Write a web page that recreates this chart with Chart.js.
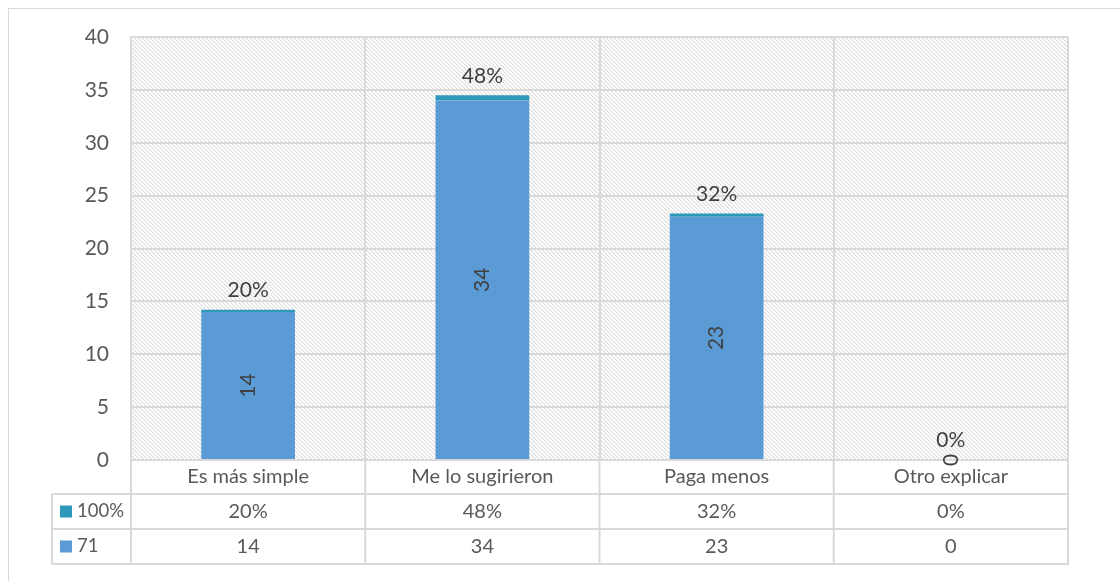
<!DOCTYPE html>
<html>
<head>
<meta charset="utf-8">
<script src="https://cdn.jsdelivr.net/npm/chart.js@4.4.1/dist/chart.umd.min.js"></script>
<style>
    html, body { margin: 0; padding: 0; background: #ffffff; overflow: hidden; }
    #chart { display: block; }
</style>
</head>
<body>
<canvas id="chart" width="1120" height="581"></canvas>
<script>
const categories = ["Es más simple", "Me lo sugirieron", "Paga menos", "Otro explicar"];
const counts = [14, 34, 23, 0];
const shares = [0.2, 0.48, 0.32, 0];
const countLabel = "71";
const shareLabel = "100%";

const textColor = "#595959";
const labelColor = "#404040";
const lineColor = "#d9d9d9";
const fontFamily = "Lato, 'Open Sans', sans-serif";

const pct = (v) => `${Math.round(v * 100)}%`;

// gray downward-diagonal fill for the plot area
const makeHatch = (ctx) => {
    const tile = document.createElement("canvas");
    tile.width = 8;
    tile.height = 8;
    const t = tile.getContext("2d");
    t.fillStyle = "#ffffff";
    t.fillRect(0, 0, 8, 8);
    for (let y = 0; y < 8; y++) {
        for (let x = 0; x < 8; x++) {
            const m = (((x - y) % 4) + 4) % 4;
            if (m == 0) {
                t.fillStyle = "#dcdcdc";
                t.fillRect(x, y, 1, 1);
            } else if (m == 1) {
                t.fillStyle = "#eeeeee";
                t.fillRect(x, y, 1, 1);
            }
        }
    }
    return ctx.createPattern(tile, "repeat");
};

const backgroundPlugin = {
    id: "background",
    beforeDraw(chart) {
        const { ctx, chartArea } = chart;
        ctx.save();
        ctx.strokeStyle = lineColor;
        ctx.lineWidth = 1;
        ctx.strokeRect(8.5, 8.5, 1300, 800);
        ctx.fillStyle = makeHatch(ctx);
        ctx.fillRect(chartArea.left, chartArea.top, chartArea.right - chartArea.left, chartArea.bottom - chartArea.top);
        ctx.restore();
    },
};

const labelPlugin = {
    id: "valueLabels",
    afterDatasetsDraw(chart) {
        const { ctx } = chart;
        ctx.save();
        ctx.fillStyle = labelColor;
        ctx.font = `21px ${fontFamily}`;
        ctx.textAlign = "center";

        chart.getDatasetMeta(0).data.forEach((bar, i) => {
            const cy = (bar.y + bar.base) / 2;
            ctx.save();
            ctx.translate(bar.x, cy);
            ctx.rotate(-Math.PI / 2);
            ctx.textBaseline = "middle";
            ctx.fillText(String(counts[i]), 0, 0);
            ctx.restore();
        });

        chart.getDatasetMeta(1).data.forEach((bar, i) => {
            ctx.textBaseline = "bottom";
            ctx.fillText(pct(shares[i]), bar.x, bar.y - 9);
        });
        ctx.restore();
    },
};

// data table under the x axis
const tablePlugin = {
    id: "dataTable",
    afterDraw(chart) {
        const { ctx, chartArea, scales } = chart;
        const x = scales.x;
        const headTop = chartArea.bottom;
        const rowH = 35;
        const r1 = headTop + 34;
        const r2 = r1 + rowH;
        const r3 = r2 + rowH;
        const tableLeft = 52;

        ctx.save();
        ctx.strokeStyle = lineColor;
        ctx.lineWidth = 2;
        ctx.beginPath();
        [r1, r2, r3].forEach((y) => {
            ctx.moveTo(tableLeft, y);
            ctx.lineTo(chartArea.right + 1, y);
        });
        ctx.moveTo(tableLeft, r1);
        ctx.lineTo(tableLeft, r3);
        for (let i = 0; i <= categories.length; i++) {
            const bx = i == 0 ? chartArea.left : i == categories.length ? chartArea.right : (x.getPixelForValue(i - 1) + x.getPixelForValue(i)) / 2;
            ctx.moveTo(bx, headTop);
            ctx.lineTo(bx, r3);
        }
        ctx.stroke();

        ctx.font = `20px ${fontFamily}`;
        ctx.fillStyle = textColor;
        ctx.textAlign = "center";
        ctx.textBaseline = "middle";
        categories.forEach((c, i) => {
            const cx = x.getPixelForValue(i);
            ctx.fillText(pct(shares[i]), cx, (r1 + r2) / 2);
            ctx.fillText(String(counts[i]), cx, (r2 + r3) / 2);
        });

        const rows = [
            { label: shareLabel, color: chart.data.datasets[1].backgroundColor, y: (r1 + r2) / 2 },
            { label: countLabel, color: chart.data.datasets[0].backgroundColor, y: (r2 + r3) / 2 },
        ];
        ctx.font = `18.5px ${fontFamily}`;
        rows.forEach((r) => {
            ctx.fillStyle = r.color;
            ctx.fillRect(60, r.y - 6, 12, 12);
            ctx.fillStyle = textColor;
            ctx.textAlign = "left";
            ctx.fillText(r.label, 77, r.y);
        });
        ctx.restore();
    },
};

const chart_ctx = document.getElementById("chart").getContext("2d");
const chart = new Chart(chart_ctx, {
    type: "bar",
    data: {
        labels: categories,
        datasets: [
            {
                label: countLabel,
                data: counts,
                backgroundColor: "#5b9bd5",
                barPercentage: 0.4,
                categoryPercentage: 1,
            },
            {
                label: shareLabel,
                data: shares,
                backgroundColor: "#2e98ba",
                barPercentage: 0.4,
                categoryPercentage: 1,
            },
        ],
    },
    options: {
        responsive: false,
        animation: false,
        layout: {
            padding: { left: 0, right: 52, top: 37, bottom: 87 },
        },
        plugins: {
            legend: { display: false },
            tooltip: { enabled: false },
        },
        scales: {
            x: {
                stacked: true,
                grid: { color: lineColor, lineWidth: 2, offset: true, drawTicks: false },
                border: { color: lineColor, width: 2 },
                ticks: {
                    color: textColor,
                    font: { family: fontFamily, size: 20 },
                    padding: 5,
                    maxRotation: 0,
                },
                afterFit: (s) => {
                    s.height = 34;
                },
            },
            y: {
                stacked: true,
                min: 0,
                max: 40,
                grid: { color: lineColor, lineWidth: 2, drawTicks: false },
                border: { color: lineColor, width: 2 },
                ticks: {
                    stepSize: 5,
                    color: textColor,
                    font: { family: fontFamily, size: 21 },
                    padding: 22,
                },
                afterFit: (s) => {
                    s.width = 131;
                },
            },
        },
    },
    plugins: [backgroundPlugin, labelPlugin, tablePlugin],
});
</script>
</body>
</html>
